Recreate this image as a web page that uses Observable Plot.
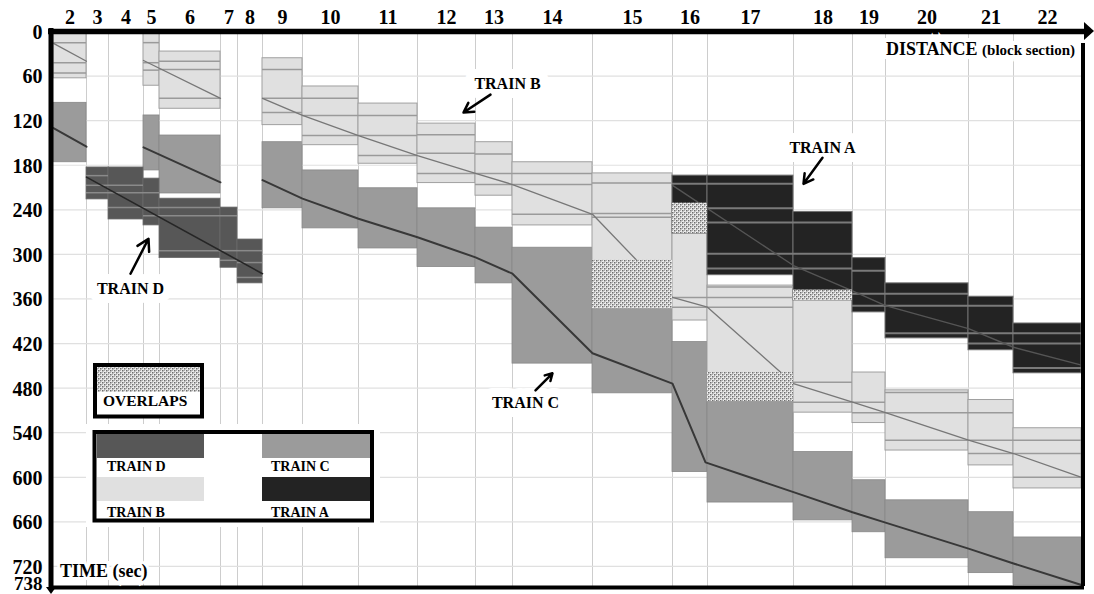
<!DOCTYPE html>
<html><head><meta charset="utf-8">
<script src="https://cdn.jsdelivr.net/npm/d3@7"></script>
<script src="https://cdn.jsdelivr.net/npm/@observablehq/plot@0.6"></script>
<style>
body{margin:0;background:#fff;}
#chart{position:relative;width:1094px;height:594px;}
</style></head><body><div id="chart"></div>
<script>
// ---- axes data ----
const sectionNo = [2,3,4,5,6,7,8,9,10,11,12,13,14,15,16,17,18,19,20,21,22];
// cumulative distance (arbitrary units) at block-section boundaries
const sectionEdge = [0,330,550,900,1060,1670,1840,2090,2490,3050,3640,4220,4590,5390,6190,6540,7400,7990,8320,9150,9600,10280];
const timeTicks = [0,60,120,180,240,300,360,420,480,540,600,660,720];
const endTick = [738];
const gridTimes = [60,120,180,240,300,360,420,480,540,600,660,720];

// ---- Train B (light) blocking times ----
const bSec   = [2,5,6,9,10,11,12,13,14,15,16,17,18,19,20,21,22];
const bStart = [0,0,27,36,74,97,124,149,176,191,231,342,348,459,483,496,534];
const bEnd   = [63,73,104,126,153,178,204,221,261,373,389,498,513,527,564,584,615];
const bLines = [[15,42,56],[15,42,52],[40,51,90],[51,90,109],[90,113,140],[113,140,167],[139,164,191],[165,191,206],[191,206,246],[204,245,250],[358,371],[344,358,371],[472,499],[499,513],[486,513,550],[513,550,568],[550,568,600]];

// ---- Train C (medium) ----
const cSec   = [2,5,6,9,10,11,12,13,14,15,16,17,18,19,20,21,22];
const cStart = [96,113,140,149,187,211,238,264,291,308,418,459,566,604,631,647,681];
const cEnd   = [176,187,218,238,265,292,317,339,447,487,593,634,658,674,709,729,745];

// ---- Train D (dark) ----
const dSec   = [3,4,5,6,7,8];
const dStart = [183,183,198,225,237,280];
const dEnd   = [226,253,261,305,318,339];
const dLines = [[194,207,217],[207,217,237],[217,237,248],[237,248,295],[248,295,308],[295,311,331]];

// ---- Train A (black) ----
const aSec   = [16,17,18,19,20,21,22];
const aStart = [194,194,243,305,339,357,393];
const aEnd   = [272,328,362,378,413,429,460];
const aLines = [[205],[205,238,257,299,319],[257,299,319],[322,353,369],[353,369,406],[369,406,420],[406,420,453]];

// ---- trajectories (distance, time) ----
const bPathSeg = [1,1,2,2,3,3,3,3,3,3,3,3,3,3,3,3,3,3,3];
const bPathX   = [0,330,900,1670,2090,2490,3050,3640,4220,4590,5390,6190,6540,7400,7990,8320,9150,9600,10280];
const bPathT   = [16,40,39,90,90,113,140,167,191,206,246,358,371,474,499,513,550,568,600];
const cPathSeg = [1,1,2,2,3,3,3,3,3,3,3,3,3,3,3,3,3,3,3];
const cPathX   = [0,330,900,1670,2090,2490,3050,3640,4220,4590,5390,6190,6520,7400,7990,8320,9150,9600,10280];
const cPathT   = [130,155,156,203,200,225,252,277,304,326,433,474,580,620,647,661,696,716,745];
const dPathX   = [330,2090];
const dPathT   = [196,326];
const aPathX   = [6190,7400,7990,8320,9150,9600,10280];
const aPathT   = [207,315,349,369,400,425,449];

// ---- annotations ----
const annText = ["TRAIN B","TRAIN A","TRAIN D","TRAIN C"];
const annX  = [4540,7690,770,4720];
const annT  = [70,156,347,500];
const arrX1 = [4370,7690,770,4820];
const arrT1 = [85,170,326,483];
const arrX2 = [4100,7500,950,4990];
const arrT2 = [109,205,279,460];

// ---- build tables ----
function blocks(train, secs, starts, ends) {
  return secs.map((s,i)=>({train, sec:s, x1:sectionEdge[s-2], x2:sectionEdge[s-1], t1:starts[i], t2:ends[i]}));
}
function stripes(secs, lists) {
  return secs.flatMap((s,i)=>lists[i].map(t=>({x1:sectionEdge[s-2], x2:sectionEdge[s-1], t})));
}
function path(xs, ts, segs) { return xs.map((x,i)=>({x, t:ts[i], seg: segs ? segs[i] : 1})); }

const blocksB = blocks("B", bSec, bStart, bEnd);
const blocksC = blocks("C", cSec, cStart, cEnd);
const blocksD = blocks("D", dSec, dStart, dEnd);
const blocksA = blocks("A", aSec, aStart, aEnd);
const allBlocks = [...blocksA, ...blocksB, ...blocksC, ...blocksD];
const overlaps = [];
for (let i=0;i<allBlocks.length;i++) for (let j=i+1;j<allBlocks.length;j++) {
  const p=allBlocks[i], q=allBlocks[j];
  if (p.train!==q.train && p.sec===q.sec) {
    const t1=Math.max(p.t1,q.t1), t2=Math.min(p.t2,q.t2);
    if (t2>t1) overlaps.push({x1:p.x1, x2:p.x2, t1, t2});
  }
}
const sections = sectionNo.map((s,i)=>({s, mid:(sectionEdge[i]+sectionEdge[i+1])/2}));
const ann = annText.map((text,i)=>({text, x:annX[i], t:annT[i], x1:arrX1[i], t1:arrT1[i], x2:arrX2[i], t2:arrT2[i]}));

const FONT = "Liberation Serif, Times New Roman, serif";
const rectOpts = {x1:"x1", x2:"x2", y1:"t1", y2:"t2"};
const yLab = {frameAnchor:"left", lineAnchor:"middle", dx:-11, textAnchor:"end", fontSize:20, fontWeight:"bold", fontFamily:FONT, fill:"#000"};

const chart = Plot.plot({
  width: 1094, height: 594,
  marginLeft: 53, marginRight: 13, marginTop: 31, marginBottom: 8,
  x: {domain: [0, 10280], axis: null},
  y: {domain: [0, 747], reverse: true, axis: null},
  style: {background: "white", fontFamily: FONT},
  marks: [
    Plot.ruleX(sectionEdge.slice(1,-1), {stroke:"#cdcdcd", strokeWidth:1}),
    Plot.ruleY(gridTimes, {stroke:"#e0e0e0", strokeWidth:1.2}),
    Plot.rect(blocksC, {...rectOpts, fill:"#9b9b9b", stroke:"#888", strokeWidth:0.8}),
    Plot.rect(blocksD, {...rectOpts, fill:"#575757", stroke:"#6a6a6a", strokeWidth:0.8}),
    Plot.rect(blocksB, {...rectOpts, fill:"#e0e0e0", stroke:"#a0a0a0", strokeWidth:1}),
    Plot.rect(blocksA, {...rectOpts, fill:"#232323", stroke:"#707070", strokeWidth:1}),
    Plot.ruleY(stripes(bSec, bLines), {x1:"x1", x2:"x2", y:"t", stroke:"#9a9a9a", strokeWidth:1.5}),
    Plot.ruleY(stripes(dSec, dLines), {x1:"x1", x2:"x2", y:"t", stroke:"#8a8a8a", strokeWidth:1.5}),
    Plot.ruleY(stripes(aSec, aLines), {x1:"x1", x2:"x2", y:"t", stroke:"#7a7a7a", strokeWidth:2}),
    Plot.line(path(bPathX, bPathT, bPathSeg), {x:"x", y:"t", z:"seg", stroke:"#777", strokeWidth:1.3}),
    Plot.line(path(cPathX, cPathT, cPathSeg), {x:"x", y:"t", z:"seg", stroke:"#383838", strokeWidth:2}),
    Plot.line(path(dPathX, dPathT), {x:"x", y:"t", stroke:"#262626", strokeWidth:1.6}),
    Plot.line(path(aPathX, aPathT), {x:"x", y:"t", stroke:"#555", strokeWidth:1.4}),
    Plot.rect(overlaps, {...rectOpts, fill:"#c0c0c1"}),
    // frame / axis lines
    Plot.ruleY([0], {stroke:"#000", strokeWidth:5.5, insetLeft:-5, insetRight:-5}),
    Plot.ruleX([0], {stroke:"#000", strokeWidth:5, dx:-2.5, insetTop:-3, insetBottom:-4}),
    Plot.ruleY([747], {stroke:"#000", strokeWidth:4, dy:1, insetRight:-3}),
    Plot.ruleX([10280], {stroke:"#000", strokeWidth:4, dx:1.5, insetTop:12}),
    // tick labels
    Plot.text(sections, {x:"mid", text:d=>String(d.s), frameAnchor:"top", lineAnchor:"middle", dy:-13.5, fontSize:20, fontWeight:"bold", fontFamily:FONT, fill:"#000"}),
    Plot.text(timeTicks, {y:d=>d, text:d=>String(d), ...yLab, dy:1}),
    Plot.text(endTick, {y:d=>d, text:d=>String(d), ...yLab, fontSize:19, dy:4}),
    // annotations
    Plot.text(ann, {x:"x", y:"t", text:"text", fontSize:16, fontWeight:"bold", fontFamily:FONT, fill:"#000", stroke:"white", strokeWidth:18}),
    Plot.arrow(ann, {x1:"x1", y1:"t1", x2:"x2", y2:"t2", stroke:"#000", strokeWidth:2.5, headLength:10})
  ]
});
document.getElementById("chart").appendChild(chart);

const svg = d3.select(chart);
const defs = svg.insert("defs", ":first-child");
const pat = defs.append("pattern").attr("id","dots").attr("patternUnits","userSpaceOnUse").attr("width",4).attr("height",4);
pat.append("rect").attr("width",4).attr("height",4).attr("fill","#ececec");
pat.append("rect").attr("x",0).attr("y",0).attr("width",1.5).attr("height",1.5).attr("fill","#6e6e6e");
pat.append("rect").attr("x",2).attr("y",2).attr("width",1.5).attr("height",1.5).attr("fill","#6e6e6e");
pat.append("rect").attr("x",2).attr("y",0).attr("width",1).attr("height",1).attr("fill","#aaaaaa");
pat.append("rect").attr("x",0).attr("y",2).attr("width",1).attr("height",1).attr("fill","#aaaaaa");
svg.selectAll('g[fill="#c0c0c1"]').attr("fill","url(#dots)");

// axis arrows
svg.append("polygon").attr("points","1084,22 1094,31 1084,40").attr("fill","#000");
svg.append("polygon").attr("points","46,587 56,587 51,594").attr("fill","#000");

// axis titles
const dist = svg.append("text").attr("x",1075).attr("y",55).attr("text-anchor","end")
  .attr("font-family",FONT).attr("font-weight","bold")
  .attr("stroke","white").attr("stroke-width",8).attr("paint-order","stroke");
dist.append("tspan").attr("font-size",18).text("DISTANCE ");
dist.append("tspan").attr("font-size",15).text("(block section)");
svg.append("text").attr("x",60).attr("y",577).attr("text-anchor","start").attr("font-family",FONT).attr("font-weight","bold")
  .attr("font-size",18).attr("stroke","white").attr("stroke-width",6).attr("paint-order","stroke").text("TIME (sec)");

// legend: overlaps
const lg = svg.append("g").attr("font-family",FONT).attr("font-weight","bold").attr("text-anchor","start");
lg.append("rect").attr("x",95).attr("y",365).attr("width",107).attr("height",51.5).attr("fill","white").attr("stroke","#000").attr("stroke-width",4);
lg.append("rect").attr("x",97).attr("y",367).attr("width",103).attr("height",25).attr("fill","url(#dots)");
lg.append("text").attr("x",103).attr("y",406).attr("font-size",15.5).text("OVERLAPS");

// legend: trains
lg.append("rect").attr("x",86).attr("y",424).attr("width",294).attr("height",103).attr("fill","white");
lg.append("rect").attr("x",94.5).attr("y",432).attr("width",277.5).attr("height",88.5).attr("fill","white").attr("stroke","#000").attr("stroke-width",4);
const legendItems = [
  {label:"TRAIN D", fill:"#575757", x:97, y:434},
  {label:"TRAIN C", fill:"#9b9b9b", x:262, y:434},
  {label:"TRAIN B", fill:"#e0e0e0", x:97, y:477},
  {label:"TRAIN A", fill:"#232323", x:262, y:477}
];
for (const it of legendItems) {
  lg.append("rect").attr("x",it.x).attr("y",it.y).attr("width",it.x===97?107:108).attr("height",24).attr("fill",it.fill);
  lg.append("text").attr("x",it.x+(it.x===97?10:9)).attr("y",it.y+(it.y===434?37:40)).attr("font-size",14).text(it.label);
}
</script>
</body></html>
